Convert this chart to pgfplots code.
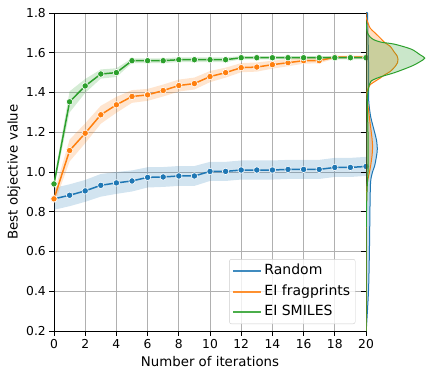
\documentclass[border=0pt]{standalone}
\usepackage{fontspec}
\setmainfont{DejaVu Sans}
\usepackage{pgfplots}
\pgfplotsset{compat=1.18}
\usepackage{pgfplotstable}
\usepgfplotslibrary{fillbetween}

\definecolor{tabblue}{HTML}{1F77B4}
\definecolor{taborange}{HTML}{FF7F0E}
\definecolor{tabgreen}{HTML}{2CA02C}
\definecolor{gridgray}{HTML}{B0B0B0}
\definecolor{legendgray}{HTML}{CCCCCC}

% mean best value per iteration with the band around it
\pgfplotstableread{
x y lo hi
0 0.865 0.810 0.920
1 0.883 0.828 0.938
2 0.905 0.850 0.960
3 0.933 0.876 0.990
4 0.945 0.890 1.000
5 0.955 0.902 1.008
6 0.973 0.922 1.024
7 0.975 0.925 1.025
8 0.980 0.930 1.030
9 0.980 0.930 1.030
10 1.003 0.955 1.051
11 1.003 0.955 1.051
12 1.010 0.962 1.058
13 1.010 0.962 1.058
14 1.010 0.962 1.058
15 1.013 0.965 1.061
16 1.013 0.965 1.061
17 1.013 0.965 1.061
18 1.023 0.975 1.071
19 1.023 0.975 1.071
20 1.028 0.980 1.076
}\random

\pgfplotstableread{
x y lo hi
0 0.865 0.835 0.895
1 1.108 1.053 1.163
2 1.195 1.145 1.245
3 1.288 1.243 1.333
4 1.338 1.298 1.378
5 1.380 1.348 1.412
6 1.388 1.358 1.418
7 1.410 1.380 1.440
8 1.435 1.405 1.465
9 1.445 1.415 1.475
10 1.480 1.452 1.508
11 1.500 1.475 1.525
12 1.525 1.502 1.548
13 1.528 1.505 1.551
14 1.540 1.520 1.560
15 1.550 1.532 1.568
16 1.560 1.545 1.575
17 1.560 1.547 1.573
18 1.578 1.570 1.586
19 1.578 1.570 1.586
20 1.578 1.570 1.586
}\fragprints

\pgfplotstableread{
x y lo hi
0 0.940 0.920 0.960
1 1.353 1.300 1.406
2 1.433 1.398 1.468
3 1.493 1.470 1.516
4 1.500 1.478 1.522
5 1.560 1.548 1.572
6 1.560 1.548 1.572
7 1.560 1.548 1.572
8 1.565 1.553 1.577
9 1.565 1.553 1.577
10 1.565 1.553 1.577
11 1.565 1.553 1.577
12 1.575 1.567 1.583
13 1.575 1.567 1.583
14 1.575 1.567 1.583
15 1.575 1.567 1.583
16 1.575 1.567 1.583
17 1.575 1.567 1.583
18 1.575 1.567 1.583
19 1.575 1.567 1.583
20 1.575 1.567 1.583
}\smiles

\begin{document}
\begin{tikzpicture}

\begin{axis}[
    at={(54pt,46pt)}, anchor=south west,
    width=312pt, height=318pt, scale only axis,
    xmin=0, xmax=20, ymin=0.2, ymax=1.8,
    xtick={0,2,4,6,8,10,12,14,16,18,20},
    ytick={0.2,0.4,0.6,0.8,1.0,1.2,1.4,1.6,1.8},
    grid=major,
    grid style={gridgray, line width=0.8pt},
    axis line style={line width=0.8pt},
    tick style={black, line width=0.8pt},
    major tick length=4.7pt,
    tick align=outside, tick pos=left,
    /pgf/number format/assume math mode=true,
    yticklabel style={/pgf/number format/.cd, fixed, fixed zerofill, precision=1},
    ticklabel style={font=\fontsize{12.3}{14}\selectfont},
    xlabel={Number of iterations},
    ylabel={Best objective value},
    label style={font=\fontsize{13.33}{16}\selectfont},
    xlabel style={at={(axis description cs:0.5,0)}, anchor=base, yshift=-35.7pt},
    ylabel style={at={(axis description cs:-0.128,0.5)}, anchor=center},
    legend style={at={(0.966,0.022)}, anchor=south east, draw=legendgray,
      rounded corners=2pt, fill=white, fill opacity=0.8, text opacity=1,
      font=\fontsize{14}{17}\selectfont, row sep=3pt, inner sep=3pt,
      nodes={inner sep=2pt, text height=10.5pt, text depth=3pt}},
    legend cell align=left,
    legend image code/.code={\draw[#1, line width=2pt, opacity=0.85] (0pt,0pt) -- (28pt,0pt);},
    every axis plot/.append style={line width=1.5pt},
  ]

  % Random
  \addplot[draw=none, forget plot, name path=rhi] table[x=x, y=hi]{\random};
  \addplot[draw=none, forget plot, name path=rlo] table[x=x, y=lo]{\random};
  \addplot[fill=tabblue, fill opacity=0.2, draw=none, forget plot] fill between[of=rhi and rlo];
  \addplot[tabblue, mark=*, mark size=3.2pt,
    mark options={fill=tabblue, draw=white, line width=0.6pt}] table[x=x, y=y]{\random};

  % EI fragprints
  \addplot[draw=none, forget plot, name path=fhi] table[x=x, y=hi]{\fragprints};
  \addplot[draw=none, forget plot, name path=flo] table[x=x, y=lo]{\fragprints};
  \addplot[fill=taborange, fill opacity=0.2, draw=none, forget plot] fill between[of=fhi and flo];
  \addplot[taborange, mark=*, mark size=3.2pt,
    mark options={fill=taborange, draw=white, line width=0.6pt}] table[x=x, y=y]{\fragprints};

  % EI SMILES
  \addplot[draw=none, forget plot, name path=shi] table[x=x, y=hi]{\smiles};
  \addplot[draw=none, forget plot, name path=slo] table[x=x, y=lo]{\smiles};
  \addplot[fill=tabgreen, fill opacity=0.2, draw=none, forget plot] fill between[of=shi and slo];
  \addplot[tabgreen, mark=*, mark size=3.2pt,
    mark options={fill=tabgreen, draw=white, line width=0.6pt}] table[x=x, y=y]{\smiles};

  \legend{Random, EI fragprints, EI SMILES}
\end{axis}

% marginal density of the final values
\begin{axis}[
    at={(366pt,46pt)}, anchor=south west,
    width=69pt, height=318pt, scale only axis,
    xmin=0, xmax=69, ymin=0.2, ymax=1.8,
    hide x axis,
    axis y line*=left,
    ytick={0.2,0.4,0.6,0.8,1.0,1.2,1.4,1.6,1.8},
    yticklabels={},
    axis line style={line width=0.8pt},
    tick style={black, line width=0.8pt},
    major tick length=4.7pt, tick align=outside,
  ]
  \addplot[tabblue, line width=1pt, fill=tabblue, fill opacity=0.25, smooth, tension=0.5] coordinates {
    (0,0.2) (0.3,0.21) (1,0.265) (2.6,0.415) (3.4,0.6) (3.8,0.75) (4,0.83) (4.6,0.95)
    (6.5,1.0) (8.6,1.03) (10.5,1.08) (11.3,1.115) (10.5,1.16) (8.6,1.2) (6.5,1.24)
    (4.6,1.28) (3.2,1.33) (2.6,1.37) (2.5,1.45) (2.5,1.55) (2.2,1.65) (1.8,1.72) (1.5,1.8) (0,1.8)
  };
  \addplot[taborange, line width=1pt, fill=taborange, fill opacity=0.25, smooth, tension=0.5] coordinates {
    (0,0.2) (0.1,0.6) (0.5,0.85) (1,0.93) (2,0.965) (3.5,1.0) (4.6,1.03) (6,1.08) (6.6,1.125)
    (6,1.17) (5.3,1.2) (3.5,1.27) (1.3,1.365) (1,1.406) (2.5,1.425) (4.3,1.44) (9,1.456)
    (14.3,1.473) (19,1.49) (24.3,1.506) (29,1.53) (31.5,1.55) (32,1.565) (31,1.585) (28,1.605)
    (24.3,1.632) (19,1.65) (14.3,1.674) (9,1.70) (4.3,1.723) (2,1.75) (0.3,1.775) (0,1.8)
  };
  \addplot[tabgreen, line width=1pt, fill=tabgreen, fill opacity=0.25, smooth, tension=0.5] coordinates {
    (0,0.2) (0.2,0.7) (1,0.9) (2,1.0) (2.2,1.1) (2,1.2) (1.5,1.3) (1.5,1.38) (2.5,1.42)
    (5,1.457) (15.3,1.48) (28.6,1.50) (45.3,1.532) (54,1.555) (58.7,1.573) (54,1.59)
    (45.3,1.618) (28.6,1.643) (15.3,1.653) (8,1.665) (4,1.68) (1.5,1.70) (0.5,1.73) (0,1.76)
  };
\end{axis}

\pgfresetboundingbox
\path[use as bounding box] (0,0) rectangle (435pt,377pt);
\end{tikzpicture}
\end{document}
